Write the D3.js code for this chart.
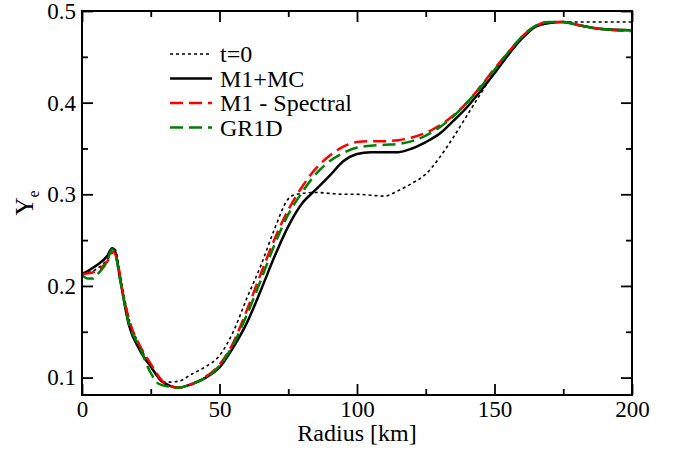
<!DOCTYPE html>
<html>
<head>
<meta charset="utf-8">
<script src="https://cdn.jsdelivr.net/npm/d3@7.9.0/dist/d3.min.js"></script>
</head>
<body style="margin:0; background:#fff">
<script>
// radius [km] and Ye values
const t0Radius = [0, 5, 9, 12, 14, 17, 21, 25, 30, 35, 40, 45, 50, 55, 60, 65, 70, 75, 78, 85, 90, 95, 100, 105, 110, 115, 120, 125, 130, 135, 140, 145, 150, 155, 160, 165, 170, 200];
const t0Ye = [0.213, 0.218, 0.228, 0.240, 0.210, 0.165, 0.135, 0.112, 0.095, 0.096, 0.104, 0.112, 0.124, 0.150, 0.187, 0.222, 0.262, 0.295, 0.300, 0.302, 0.301, 0.300, 0.300, 0.299, 0.298, 0.304, 0.312, 0.322, 0.340, 0.362, 0.386, 0.410, 0.434, 0.454, 0.472, 0.483, 0.488, 0.488];

const mcRadius = [0, 3, 6, 9, 11, 12, 14, 17, 21, 25, 29, 32, 35, 40, 45, 50, 55, 60, 65, 70, 75, 80, 85, 90, 95, 100, 105, 110, 115, 120, 125, 130, 135, 140, 145, 150, 155, 160, 165, 170, 175, 180, 185, 190, 200];
const mcYe = [0.213, 0.218, 0.224, 0.232, 0.241, 0.238, 0.205, 0.158, 0.130, 0.112, 0.096, 0.091, 0.089, 0.093, 0.100, 0.111, 0.133, 0.160, 0.195, 0.232, 0.265, 0.290, 0.305, 0.320, 0.336, 0.344, 0.346, 0.346, 0.346, 0.350, 0.357, 0.366, 0.380, 0.395, 0.413, 0.432, 0.452, 0.470, 0.483, 0.487, 0.488, 0.485, 0.482, 0.480, 0.479];

const specRadius = [0, 3, 6, 9, 11.5, 13, 15, 18, 21, 25, 29, 32, 35, 40, 45, 50, 55, 60, 65, 70, 75, 80, 85, 90, 95, 100, 105, 110, 115, 120, 125, 130, 135, 140, 145, 150, 155, 160, 165, 170, 175, 180, 185, 190, 200];
const specYe = [0.213, 0.214, 0.218, 0.226, 0.237, 0.225, 0.190, 0.155, 0.135, 0.115, 0.097, 0.091, 0.089, 0.093, 0.101, 0.114, 0.138, 0.174, 0.213, 0.251, 0.283, 0.308, 0.328, 0.342, 0.352, 0.357, 0.358, 0.358, 0.359, 0.362, 0.367, 0.375, 0.386, 0.400, 0.418, 0.437, 0.455, 0.472, 0.484, 0.488, 0.488, 0.485, 0.482, 0.480, 0.478];

const gr1dRadius = [0, 2, 4, 6, 9, 11, 12, 14, 17, 21, 25, 28, 32, 35, 40, 45, 50, 55, 60, 65, 70, 75, 80, 85, 90, 95, 100, 105, 110, 115, 120, 125, 130, 135, 140, 145, 150, 155, 160, 165, 170, 175, 180, 185, 190, 200];
const gr1dYe = [0.212, 0.208, 0.208, 0.214, 0.226, 0.240, 0.236, 0.205, 0.160, 0.133, 0.105, 0.093, 0.090, 0.089, 0.093, 0.100, 0.113, 0.136, 0.169, 0.206, 0.245, 0.278, 0.302, 0.322, 0.336, 0.345, 0.351, 0.353, 0.354, 0.355, 0.358, 0.364, 0.373, 0.385, 0.400, 0.417, 0.436, 0.455, 0.472, 0.484, 0.488, 0.488, 0.485, 0.482, 0.480, 0.479];

const xMajor = [0, 50, 100, 150, 200];
const xMinor = [25, 75, 125, 175];
const yMajor = [0.1, 0.2, 0.3, 0.4, 0.5];
const yMinor = [0.15, 0.25, 0.35, 0.45];

const series = [
  { name: 't=0', r: t0Radius, ye: t0Ye, color: '#000', width: 1.6, dash: '3,3' },
  { name: 'M1+MC', r: mcRadius, ye: mcYe, color: '#000', width: 2.5, dash: null },
  { name: 'M1 - Spectral', r: specRadius, ye: specYe, color: '#ff0000', width: 2.5, dash: '13,6' },
  { name: 'GR1D', r: gr1dRadius, ye: gr1dYe, color: '#008000', width: 2.5, dash: '13,6' },
];

const FONT = '"Liberation Serif"';
const width = 676, height = 450;
const margin = { top: 11, right: 44, bottom: 55, left: 82 };

const svg = d3.select('body').append('svg')
  .attr('width', width).attr('height', height)
  .style('font-family', FONT);

const x = d3.scaleLinear().domain([0, 200]).range([margin.left, width - margin.right]);
const y = d3.scaleLinear().domain([0.081, 0.5]).range([height - margin.bottom, margin.top]);

const line = d3.line()
  .x(d => x(d[0]))
  .y(d => y(d[1]))
  .curve(d3.curveMonotoneX);

const curves = svg.append('g');
series.forEach(s => {
  curves.append('path')
    .datum(d3.zip(s.r, s.ye))
    .attr('d', line)
    .attr('fill', 'none')
    .attr('stroke', s.color)
    .attr('stroke-width', s.width)
    .attr('stroke-dasharray', s.dash);
});

// axes, ticks pointing inwards on all four sides
const styleAxis = g => {
  g.attr('font-family', null).attr('font-size', null);
  g.select('.domain').remove();
  g.selectAll('.tick line').attr('stroke', '#000').attr('stroke-width', 1.8);
  g.selectAll('.tick text')
    .attr('fill', '#000')
    .style('font-family', FONT)
    .style('font-size', '23px');
};

const x0 = height - margin.bottom, y0 = margin.top;
const xl = margin.left, xr = width - margin.right;

svg.append('g').attr('transform', `translate(0,${x0})`)
  .call(d3.axisBottom(x).tickValues(xMajor).tickSize(-11).tickPadding(6))
  .call(styleAxis);
svg.append('g').attr('transform', `translate(0,${x0})`)
  .call(d3.axisBottom(x).tickValues(xMinor).tickSize(-6).tickFormat(''))
  .call(styleAxis);
svg.append('g').attr('transform', `translate(0,${y0})`)
  .call(d3.axisTop(x).tickValues(xMajor).tickSize(-11).tickFormat(''))
  .call(styleAxis);
svg.append('g').attr('transform', `translate(0,${y0})`)
  .call(d3.axisTop(x).tickValues(xMinor).tickSize(-6).tickFormat(''))
  .call(styleAxis);

svg.append('g').attr('transform', `translate(${xl},0)`)
  .call(d3.axisLeft(y).tickValues(yMajor).tickSize(-11).tickPadding(6).tickFormat(d3.format('.1f')))
  .call(styleAxis);
svg.append('g').attr('transform', `translate(${xl},0)`)
  .call(d3.axisLeft(y).tickValues(yMinor).tickSize(-6).tickFormat(''))
  .call(styleAxis);
svg.append('g').attr('transform', `translate(${xr},0)`)
  .call(d3.axisRight(y).tickValues(yMajor).tickSize(-11).tickFormat(''))
  .call(styleAxis);
svg.append('g').attr('transform', `translate(${xr},0)`)
  .call(d3.axisRight(y).tickValues(yMinor).tickSize(-6).tickFormat(''))
  .call(styleAxis);

svg.append('rect')
  .attr('x', xl).attr('y', y0)
  .attr('width', xr - xl).attr('height', x0 - y0)
  .attr('fill', 'none').attr('stroke', '#000').attr('stroke-width', 2);

// axis titles
svg.append('text')
  .attr('x', (xl + xr) / 2).attr('y', 441)
  .attr('text-anchor', 'middle')
  .style('font-family', FONT)
  .style('font-size', '24px')
  .text('Radius [km]');

const yTitle = svg.append('text')
  .attr('transform', 'translate(33,203) rotate(-90)')
  .attr('text-anchor', 'middle')
  .style('font-family', FONT)
  .style('font-size', '25px');
yTitle.append('tspan').text('Y');
yTitle.append('tspan').attr('dy', 6).style('font-size', '16px').text('e');

// legend
const legend = svg.append('g').attr('transform', 'translate(170,54)');
series.forEach((s, i) => {
  const row = legend.append('g').attr('transform', `translate(0,${i * 24.5})`);
  row.append('line')
    .attr('x1', 0).attr('x2', 42)
    .attr('stroke', s.color)
    .attr('stroke-width', s.width)
    .attr('stroke-dasharray', s.dash);
  row.append('text')
    .attr('x', 50).attr('dy', '0.35em')
    .style('font-family', FONT)
    .style('font-size', '24px')
    .text(s.name);
});
</script>
</body>
</html>
